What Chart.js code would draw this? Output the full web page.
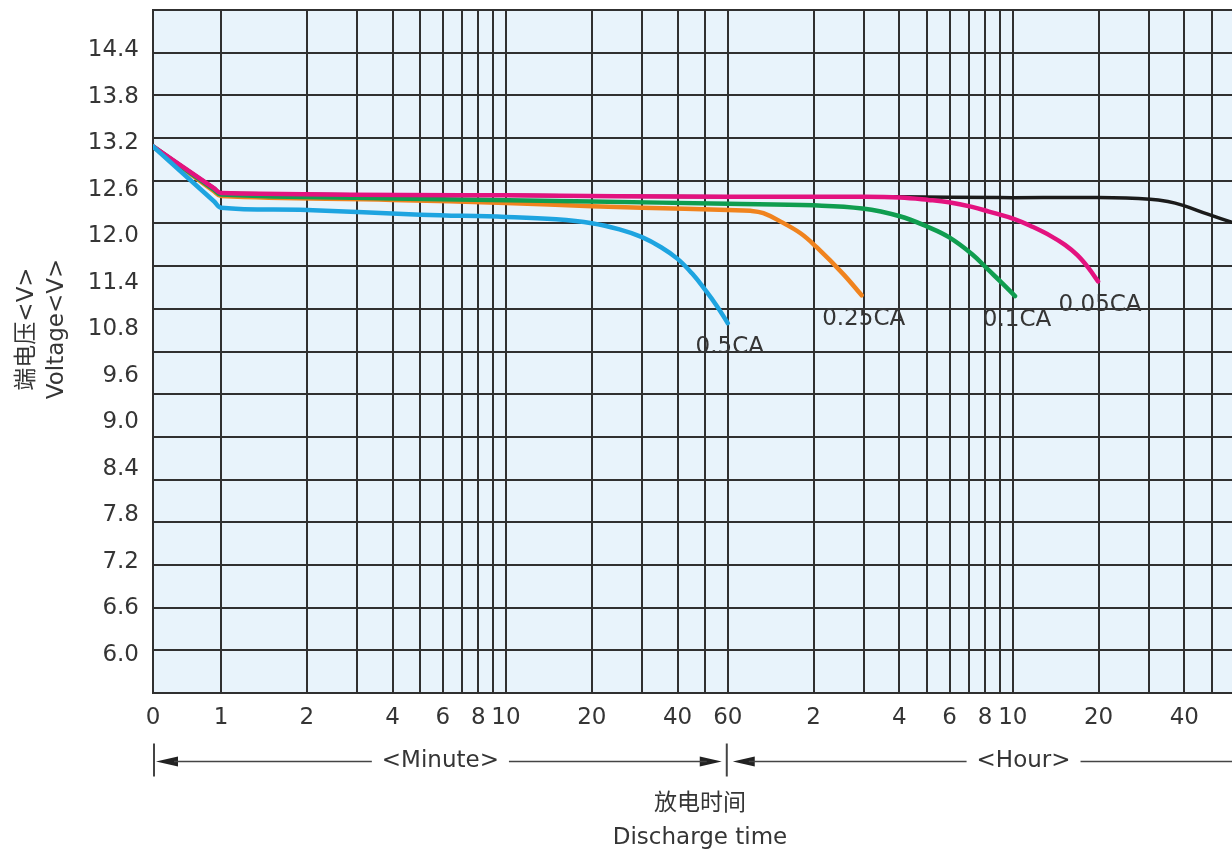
<!DOCTYPE html>
<html>
<head>
<meta charset="utf-8">
<script src="https://cdn.jsdelivr.net/npm/chart.js@4/dist/chart.umd.min.js"></script>
<style>
  html, body { margin: 0; padding: 0; background: #fff; overflow: hidden; }
  #wrap { width: 1250px; height: 856px; }
</style>
</head>
<body>
<div id="wrap"><canvas id="c" width="1250" height="856"></canvas></div>
<script>
// Discharge curves: time in minutes, terminal voltage in volts.
const SERIES_NAMES  = ['0.5CA', '0.25CA', '0.1CA', '0.05CA', ''];
const SERIES_COLORS = ['#1ea4e0', '#f0831e', '#0f9d4f', '#e3127f', '#1b1b1b'];
const SERIES_LAYER  = [0, 3, 2, 1, 4];   // lower layer is drawn on top

const time_05CA = [0, 0.9, 1, 2, 5, 10, 15, 20, 25, 30, 35, 40, 45, 50, 55, 60];
const volt_05CA = [13.16, 12.45, 12.37, 12.34, 12.28, 12.25, 12.22, 12.17, 12.09, 11.99, 11.86, 11.71, 11.52, 11.31, 11.10, 10.88];

const time_025CA = [0, 0.9, 1, 4, 10, 20, 30, 60, 72, 80, 92, 108, 123, 152, 177];
const volt_025CA = [13.16, 12.58, 12.52, 12.47, 12.43, 12.39, 12.37, 12.34, 12.33, 12.30, 12.19, 12.04, 11.86, 11.52, 11.24];

const time_01CA = [0, 0.9, 1, 4, 20, 60, 120, 178, 241, 303, 358, 432, 495, 546, 611];
const volt_01CA = [13.16, 12.60, 12.54, 12.49, 12.45, 12.42, 12.40, 12.36, 12.26, 12.12, 11.99, 11.77, 11.56, 11.41, 11.23];

const time_005CA = [0, 0.9, 1, 10, 60, 180, 241, 303, 358, 432, 495, 611, 707, 811, 915, 1009, 1102, 1195];
const volt_005CA = [13.16, 12.62, 12.56, 12.53, 12.51, 12.51, 12.50, 12.47, 12.44, 12.38, 12.32, 12.22, 12.12, 12.01, 11.89, 11.76, 11.60, 11.42];

const time_low = [0, 0.9, 1, 10, 60, 240, 541, 1200, 1819, 2100, 2373, 2882, 3600];
const volt_low = [13.16, 12.62, 12.56, 12.53, 12.51, 12.51, 12.50, 12.50, 12.48, 12.45, 12.40, 12.29, 12.17];

// Time axis: grid lines and labelled ticks (minutes up to 60, then hours).
const gridMinutes  = [0, 1, 2, 3, 4, 5, 6, 7, 8, 9, 10, 20, 30, 40, 50, 60,
                      120, 180, 240, 300, 360, 420, 480, 540, 600, 1200, 1800, 2400, 3000, 3600];
const xTickMinutes = [0, 1, 2, 4, 6, 8, 10, 20, 40, 60, 120, 240, 360, 480, 600, 1200, 2400];
const xTickLabels  = ['0', '1', '2', '4', '6', '8', '10', '20', '40', '60', '2', '4', '6', '8', '10', '20', '40'];

// Voltage axis labels; the scale breaks between 10.8 and 9.6.
const yTickLabels = ['14.4', '13.8', '13.2', '12.6', '12.0', '11.4', '10.8', '9.6', '9.0', '8.4', '7.8', '7.2', '6.6', '6.0'];

const yTitleLines = ['端电压<V>', 'Voltage<V>'];
const xTitleLines = ['放电时间', 'Discharge time'];
const segmentNames = ['<Minute>', '<Hour>'];
const segmentBounds = [0, 60, 7200];   // minutes: start, minute/hour switch, end of hour span

// ---- scale helpers -------------------------------------------------------
// Logarithmic time axis; the 0–1 min stretch is drawn linearly in front of it.
const ZERO_SPAN = 0.2386;           // width of the 0–1 min segment, in decades
const pos = m => (m < 1 ? (m - 1) * ZERO_SPAN : Math.log10(m));
// Labels below the break sit one 0.6 V step higher on the scale.
const Y_TOP_LABEL = 14.4, Y_STEP = 0.6;

const FONT = "'DejaVu Sans', 'Noto Sans CJK SC', sans-serif";
const TEXT = '#353535';
const GRID = '#303030';

const series = [
  [time_05CA, volt_05CA],
  [time_025CA, volt_025CA],
  [time_01CA, volt_01CA],
  [time_005CA, volt_005CA],
  [time_low, volt_low]
];

const datasets = series.map(([t, v], i) => ({
  label: SERIES_NAMES[i],
  data: t.map((m, k) => ({ x: pos(m), y: v[k] })),
  order: SERIES_LAYER[i],
  borderColor: SERIES_COLORS[i],
  borderWidth: i === 4 ? 3.5 : 4.5,
  pointRadius: 0,
  tension: 0.4,
  fill: false,
  borderJoinStyle: 'round',
  borderCapStyle: 'round'
}));

const noEdgePadding = s => {
  s.paddingTop = 0; s.paddingBottom = 0; s.paddingLeft = 0; s.paddingRight = 0;
};

const plotBackground = {
  id: 'plotBackground',
  beforeDraw(chart) {
    const { ctx, chartArea: a } = chart;
    ctx.save();
    ctx.fillStyle = '#e8f3fb';
    ctx.fillRect(a.left, a.top, a.right - a.left, a.bottom - a.top);
    ctx.restore();
  }
};

const endLabels = {
  id: 'endLabels',
  afterDatasetsDraw(chart) {
    const { ctx } = chart;
    ctx.save();
    ctx.font = '23px ' + FONT;
    ctx.fillStyle = TEXT;
    ctx.textAlign = 'center';
    ctx.textBaseline = 'middle';
    chart.data.datasets.forEach((ds, i) => {
      if (!ds.label) return;
      const pts = chart.getDatasetMeta(i).data;
      const last = pts[pts.length - 1];
      ctx.fillText(ds.label, last.x + 2, last.y + 24);
    });
    ctx.restore();
  }
};

const axisDecor = {
  id: 'axisDecor',
  afterDraw(chart) {
    const { ctx, chartArea: a, scales } = chart;
    const xs = scales.x;
    ctx.save();

    // vertical axis title, two rotated lines
    ctx.font = '23px ' + FONT;
    ctx.fillStyle = TEXT;
    ctx.textAlign = 'center';
    ctx.textBaseline = 'middle';
    yTitleLines.forEach((line, i) => {
      ctx.save();
      ctx.translate(27 + i * 30, 329);
      ctx.rotate(-Math.PI / 2);
      ctx.fillText(line, 0, 0);
      ctx.restore();
    });

    // minute / hour span markers under the time axis
    const yRow = a.bottom + 68.5;
    const x0 = xs.getPixelForValue(pos(segmentBounds[0])) + 1;
    const x60 = xs.getPixelForValue(pos(segmentBounds[1])) - 1;
    const xHourMid = (x60 + xs.getPixelForValue(pos(segmentBounds[2]))) / 2;
    const xMinMid = (x0 + x60) / 2;
    const right = chart.width;

    ctx.strokeStyle = '#444';
    ctx.fillStyle = '#222';
    ctx.lineWidth = 2;
    [x0, x60].forEach(x => {
      ctx.beginPath();
      ctx.moveTo(x, yRow - 18);
      ctx.lineTo(x, yRow + 15);
      ctx.stroke();
    });

    const arrow = (tip, dir) => {
      ctx.beginPath();
      ctx.moveTo(tip, yRow);
      ctx.lineTo(tip + dir * 22, yRow - 5);
      ctx.lineTo(tip + dir * 22, yRow + 5);
      ctx.closePath();
      ctx.fill();
    };
    arrow(x0 + 2, 1);
    arrow(x60 - 5, -1);
    arrow(x60 + 6, 1);

    const wMin = ctx.measureText(segmentNames[0]).width;
    const wHour = ctx.measureText(segmentNames[1]).width;
    ctx.lineWidth = 1.5;
    const seg = (xa, xb) => {
      ctx.beginPath();
      ctx.moveTo(xa, yRow);
      ctx.lineTo(xb, yRow);
      ctx.stroke();
    };
    seg(x0 + 20, xMinMid - wMin / 2 - 10);
    seg(xMinMid + wMin / 2 + 10, x60 - 20);
    seg(x60 + 22, xHourMid - wHour / 2 - 10);
    seg(xHourMid + wHour / 2 + 10, right);

    ctx.fillStyle = TEXT;
    ctx.fillText(segmentNames[0], xMinMid, yRow);
    ctx.fillText(segmentNames[1], xHourMid, yRow);
    ctx.restore();
  }
};

new Chart(document.getElementById('c'), {
  type: 'line',
  data: { datasets },
  plugins: [plotBackground, endLabels, axisDecor],
  options: {
    responsive: false,
    devicePixelRatio: 1,
    animation: false,
    layout: { padding: { left: 0, top: 10, right: 3, bottom: 0 } },
    plugins: { legend: { display: false }, tooltip: { enabled: false } },
    scales: {
      x: {
        type: 'linear',
        position: 'bottom',
        min: pos(0),
        max: 3.6,
        afterBuildTicks: s => { s.ticks = gridMinutes.map(m => ({ value: pos(m), minutes: m })); },
        afterFit: s => { s.height = 163; noEdgePadding(s); },
        grid: { color: GRID, lineWidth: 2, drawTicks: false },
        border: { color: GRID, width: 2 },
        ticks: {
          autoSkip: false,
          maxRotation: 0,
          padding: 11,
          color: TEXT,
          font: { family: FONT, size: 23 },
          callback: (v, i, ticks) => {
            const k = xTickMinutes.indexOf(ticks[i].minutes);
            return k < 0 ? '' : xTickLabels[k];
          }
        },
        title: {
          display: true,
          text: xTitleLines,
          color: TEXT,
          font: { family: FONT, size: 23, lineHeight: 34 / 23 },
          padding: { top: 0, bottom: 1 }
        }
      },
      y: {
        type: 'linear',
        position: 'left',
        min: 6.11,
        max: 14.92,
        afterBuildTicks: s => { s.ticks = yTickLabels.map((_, k) => ({ value: Y_TOP_LABEL - Y_STEP * k })); },
        afterFit: s => { s.width = 153; noEdgePadding(s); },
        grid: { display: false, drawTicks: false },
        border: { color: GRID, width: 2 },
        ticks: {
          padding: 14,
          color: TEXT,
          font: { family: FONT, size: 23 },
          callback: (v, i) => yTickLabels[i]
        }
      },
      rows: {
        type: 'linear',
        position: 'right',
        min: 0,
        max: 16,
        afterBuildTicks: s => { s.ticks = Array.from({ length: 17 }, (_, i) => ({ value: i })); },
        afterFit: s => { s.width = 0; noEdgePadding(s); },
        grid: { color: GRID, lineWidth: 2, drawTicks: false },
        border: { display: false },
        ticks: { display: false }
      }
    }
  }
});
</script>
</body>
</html>
